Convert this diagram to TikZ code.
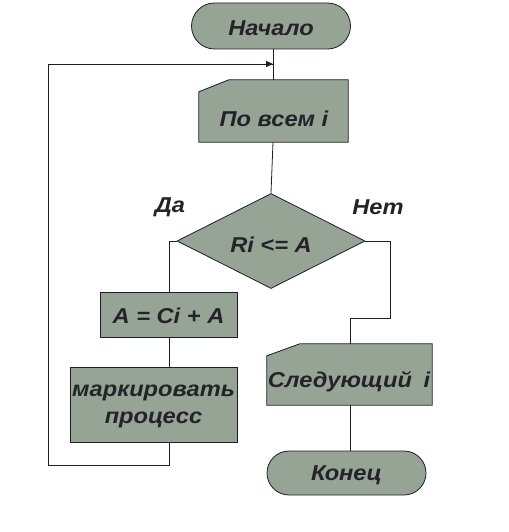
\documentclass[tikz,border=0pt]{standalone}
\usepackage{fontspec}
\setmainfont[FakeStretch=1.1]{Liberation Sans}
\usetikzlibrary{shapes.misc,shapes.geometric,arrows.meta}
\definecolor{boxfill}{RGB}{150,164,150}
\definecolor{txt}{RGB}{35,35,40}
\definecolor{edge}{RGB}{30,30,40}
\begin{document}
\begin{tikzpicture}[x=1pt,y=-1pt,
  lbl/.style={font=\fontsize{21.5}{27}\selectfont\bfseries\itshape, text=txt, align=center},
  term/.style={rounded rectangle, draw=edge, fill=boxfill, line width=0.8pt, inner sep=0pt},
  proc/.style={rectangle, draw=edge, fill=boxfill, line width=0.8pt, inner sep=0pt},
  cutbox/.style={rectangle, inner sep=0pt},
  dec/.style={diamond, draw=edge, fill=boxfill, line width=0.8pt, inner sep=0pt},
  conn/.style={draw=edge, line width=0.8pt}]
\useasboundingbox (0,0) rectangle (508,532);

% cut-corner boxes
\node[cutbox, minimum width=149pt, minimum height=62pt] (all) at (273.5,111) {};
\fill[boxfill] (all.north west) ++(0,12) -- ++(30,-12) -| (all.south east) -| cycle;
\draw[edge, line width=0.8pt] (all.north west) ++(0,12) -- ++(30,-12) -| (all.south east) -| cycle;
\node[lbl] (allT) at (274,119) {По всем i};

\node[cutbox, minimum width=165pt, minimum height=61pt] (next) at (349.5,374.5) {};
\fill[boxfill] (next.north west) ++(0,12) -- ++(33,-12) -| (next.south east) -| cycle;
\draw[edge, line width=0.8pt] (next.north west) ++(0,12) -- ++(33,-12) -| (next.south east) -| cycle;
\node[lbl] (nextT) at (349,382) {Следующий\hspace{5pt} i};

\node[term, minimum width=159pt, minimum height=46pt] (start) at (271,26) {};
\node[lbl] (startT) at (271,28) {Начало};
\node[dec, minimum width=188pt, minimum height=95pt] (cond) at (271,241) {};
\node[lbl] (condT) at (271,245) {Ri <= A};
\node[proc, minimum width=137pt, minimum height=45pt] (assign) at (168.5,314.5) {};
\node[lbl] (assignT) at (168.5,315.5) {A = Ci + A};
\node[proc, minimum width=167pt, minimum height=75pt] (mark) at (153.5,404.5) {};
\node[lbl] (markT) at (153.5,406.5) {маркировать\\процесс};
\node[term, minimum width=159pt, minimum height=44pt] (stop) at (346.5,473) {};
\node[lbl] (stopT) at (346.5,475) {Конец};

\node[lbl] (yes) at (170,207) {Да};
\node[lbl] (no) at (378,207) {Нет};

\coordinate (join) at (273,64);
\coordinate (loopL) at (48,465);

% connectors
\draw[conn] (start.south -| join) -- (all.north -| join);
\draw[conn] (all.south -| join) -- (cond.north);
\draw[conn] (cond.west) -- (169,241) -- (assign.north -| 169,0);
\draw[conn] (assign.south -| 169,0) -- (mark.north -| 169,0);
\draw[conn] (mark.south -| 169,0) |- (loopL) |- (join);
\draw[conn, -{Triangle[length=7pt,width=6pt]}] (48,64) -- (join);
\draw[conn] (cond.east) -- (390,241) -- (390,318) -- (350,318) -- (next.north -| 350,0);
\draw[conn] (next.south -| 350,0) -- (stop.north -| 350,0);
\end{tikzpicture}
\end{document}
